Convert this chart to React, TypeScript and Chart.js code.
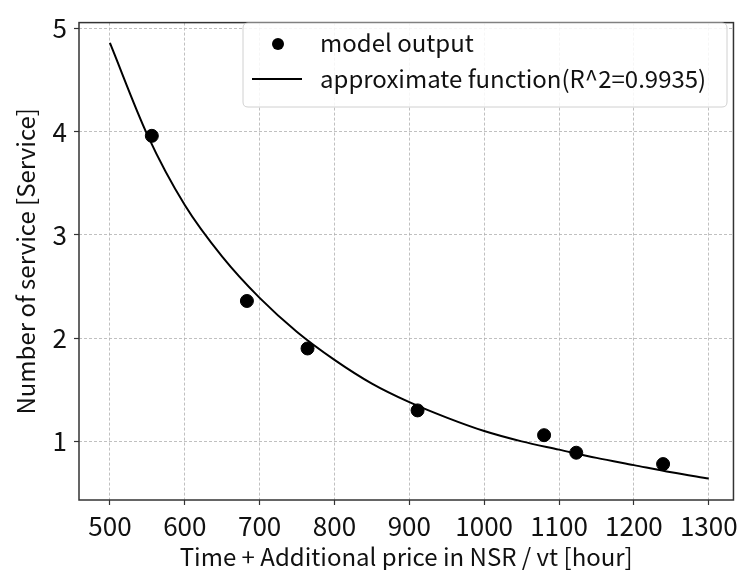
import React, { useEffect, useRef } from "react";
import { Chart, registerables } from "chart.js";

Chart.register(...registerables);

const modelX = [556, 683, 764, 911, 1080, 1123, 1239];
const modelY = [3.96, 2.36, 1.9, 1.3, 1.06, 0.89, 0.78];

const curveX = [500, 550, 600, 650, 700, 750, 800, 850, 900, 950, 1000, 1050, 1100, 1150, 1200, 1250, 1300];
const curveY = [4.86, 3.97, 3.29, 2.79, 2.39, 2.06, 1.79, 1.56, 1.38, 1.23, 1.1, 1.0, 0.92, 0.84, 0.77, 0.7, 0.64];

const xTicks = [500, 600, 700, 800, 900, 1000, 1100, 1200, 1300];
const yTicks = [1, 2, 3, 4, 5];

const seriesLabels = ["model output", "approximate function(R^2=0.9935)"];
const xTitle = "Time + Additional price in NSR / vt [hour]";
const yTitle = "Number of service [Service]";

const FONT = "'Noto Sans CJK JP', 'Noto Sans', sans-serif";

const frameAndLegend = {
  id: "frameAndLegend",
  afterDraw(chart: any) {
    const { ctx, chartArea } = chart;
    const { left, right, top, bottom } = chartArea;
    ctx.save();
    ctx.strokeStyle = "#333";
    ctx.lineWidth = 1.5;
    ctx.strokeRect(left, top, right - left, bottom - top);

    // legend box
    const lx = 243, ly = 23, lw = 484, lh = 84, r = 5;
    ctx.beginPath();
    ctx.moveTo(lx + r, ly);
    ctx.lineTo(lx + lw - r, ly);
    ctx.quadraticCurveTo(lx + lw, ly, lx + lw, ly + r);
    ctx.lineTo(lx + lw, ly + lh - r);
    ctx.quadraticCurveTo(lx + lw, ly + lh, lx + lw - r, ly + lh);
    ctx.lineTo(lx + r, ly + lh);
    ctx.quadraticCurveTo(lx, ly + lh, lx, ly + lh - r);
    ctx.lineTo(lx, ly + r);
    ctx.quadraticCurveTo(lx, ly, lx + r, ly);
    ctx.closePath();
    ctx.fillStyle = "rgba(255,255,255,0.85)";
    ctx.fill();
    ctx.strokeStyle = "#d0d0d0";
    ctx.lineWidth = 1;
    ctx.stroke();

    ctx.fillStyle = "#000";
    ctx.beginPath();
    ctx.arc(278, 44, 6, 0, Math.PI * 2);
    ctx.fill();

    ctx.strokeStyle = "#000";
    ctx.lineWidth = 2;
    ctx.beginPath();
    ctx.moveTo(252, 79);
    ctx.lineTo(302, 79);
    ctx.stroke();

    ctx.font = `24px ${FONT}`;
    ctx.textBaseline = "middle";
    ctx.textAlign = "left";
    ctx.fillStyle = "#111";
    ctx.fillText(chart.data.datasets[0].label, 320, 43);
    ctx.fillText(chart.data.datasets[1].label, 320, 79);
    ctx.restore();
  },
};

export default function App() {
  const ref = useRef<HTMLCanvasElement>(null);
  useEffect(() => {
    if (!ref.current) return;
    const gridOpts: any = {
      color: "#b0b0b0",
      lineWidth: 0.8,
      tickBorderDash: [],
      tickColor: "#333",
      tickLength: 5,
      tickWidth: 1.2,
    };
    const borderOpts: any = { display: false, dash: [3, 2] };
    const chart = new Chart(ref.current, {
      type: "scatter",
      data: {
        datasets: [
          {
            label: seriesLabels[0],
            data: modelX.map((x, i) => ({ x, y: modelY[i] })),
            backgroundColor: "#000",
            borderColor: "#000",
            pointRadius: 6.5,
            showLine: false,
          },
          {
            label: seriesLabels[1],
            data: curveX.map((x, i) => ({ x, y: curveY[i] })),
            borderColor: "#000",
            backgroundColor: "#000",
            borderWidth: 2,
            pointRadius: 0,
            showLine: true,
            cubicInterpolationMode: "monotone",
          },
        ],
      },
      options: {
        animation: false,
        responsive: false,
        maintainAspectRatio: false,
        layout: { padding: { top: 11, right: 10, left: 0, bottom: 0 } },
        plugins: { legend: { display: false }, tooltip: { enabled: false } },
        scales: {
          x: {
            type: "linear",
            min: 458.7,
            max: 1333,
            afterFit: (s: any) => { s.height = 70; },
            afterBuildTicks: (s: any) => { s.ticks = xTicks.map((v) => ({ value: v })); },
            ticks: { font: { family: FONT, size: 26 }, color: "#111", padding: 6, maxRotation: 0, callback: (v: any) => String(v) },
            grid: gridOpts,
            border: borderOpts,
            title: { display: true, text: xTitle, font: { family: FONT, size: 24 }, color: "#111", padding: { top: 0, bottom: -1 } },
          },
          y: {
            type: "linear",
            min: 0.432,
            max: 5.057,
            afterFit: (s: any) => { s.width = 79; },
            afterBuildTicks: (s: any) => { s.ticks = yTicks.map((v) => ({ value: v })); },
            ticks: { font: { family: FONT, size: 26 }, color: "#111", padding: 7, callback: (v: any) => String(v) },
            grid: gridOpts,
            border: borderOpts,
            title: { display: true, text: yTitle, font: { family: FONT, size: 24 }, color: "#111", padding: { top: 11, bottom: 0 } },
          },
        },
      },
      plugins: [frameAndLegend],
    } as any);
    return () => chart.destroy();
  }, []);
  return (
    <div style={{ position: "fixed", left: 0, top: 0, width: 744, height: 570, background: "#fff" }}>
      <canvas ref={ref} width={744} height={570} style={{ display: "block" }} />
    </div>
  );
}
